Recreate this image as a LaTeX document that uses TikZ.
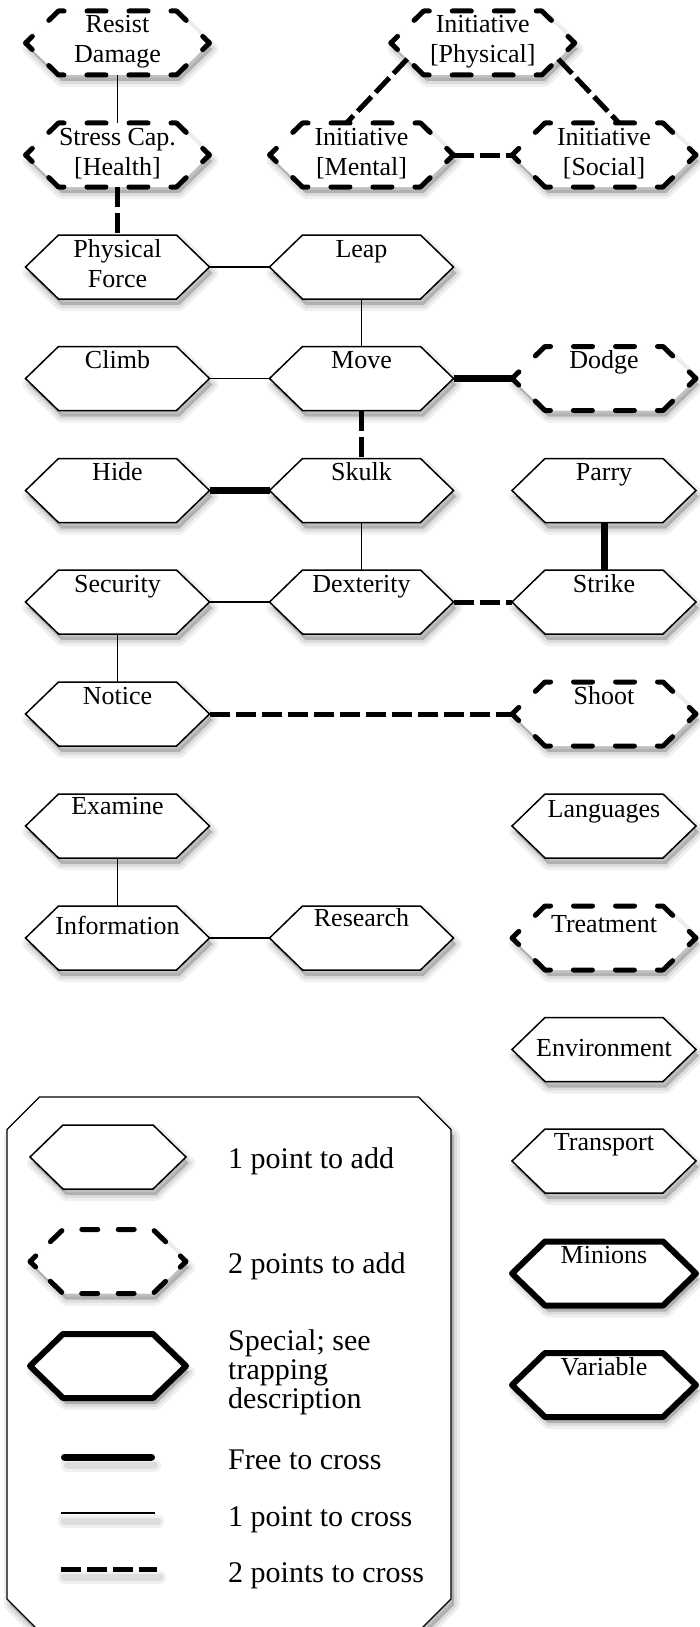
\documentclass[tikz,border=0pt]{standalone}
\usepackage{fontspec}
\setmainfont{Liberation Serif}

\tikzset{
  softshadow/.style={
    preaction={draw=black, draw opacity=0.06, line width=12pt, solid, line join=round,
      fill=black, fill opacity=0.07, transform canvas={shift={(3pt,-6pt)}}},
    preaction={draw=black, draw opacity=0.08, line width=6pt, solid, line join=round,
      transform canvas={shift={(3pt,-6pt)}}},
    preaction={fill=black, fill opacity=0.14, transform canvas={shift={(3pt,-6pt)}}}},
  lineshadow/.style={
    preaction={draw=black, draw opacity=0.06, line width=13pt, solid, line cap=round,
      transform canvas={shift={(3pt,-8pt)}}},
    preaction={draw=black, draw opacity=0.08, line width=7pt, solid, line cap=round,
      transform canvas={shift={(3pt,-8pt)}}}},
  hexbox/.style={inner sep=0pt, outer sep=0pt, minimum width=184pt, minimum height=64pt,
    font=\fontsize{26pt}{30pt}\selectfont},
  hexone/.style={softshadow, draw=black, fill=white, line width=1.5pt},
  hextwo/.style={softshadow, draw=black, fill=white, line width=5pt, line cap=round,
    line join=round, dash pattern=on 19pt off 23pt, dash phase=9.5pt},
  hexspecial/.style={softshadow, draw=black, fill=white, line width=6pt, line join=round},
  keydash/.style={dash pattern=on 16pt off 20.4pt, dash phase=8pt},
  freeline/.style={line width=7pt},
  oneline/.style={line width=1.5pt},
  twoline/.style={line width=5pt, dash pattern=on 20pt off 6pt},
  keybox/.style={softshadow, draw=black, fill=white, line width=1.3pt},
  keytext/.style={inner sep=0pt, font=\fontsize{30pt}{29pt}\selectfont, align=left}
}

% hexagon outline: style, x, y, half width
\newcommand{\hexagon}[4]{\draw[#1] (#2,#3) ++(-#4,0) -- ++(33,32) -- ++({2*#4-66},0)
  -- ++(33,-32) -- ++(-33,-32) -- ++({66-2*#4},0) -- cycle;}
% skill: [text drop], style, name, x, y, text
\newcommand{\skill}[6][22pt]{\hexagon{#2}{#4}{#5}{92}
  \node[hexbox] (#3) at (#4,#5) {\parbox[c][64pt][t]{184pt}{\centering\rule{0pt}{#1}#6}};}

\begin{document}
\begin{tikzpicture}[x=1pt, y=1pt]
\useasboundingbox (0,0) rectangle (699,-1627);

% skills
\skill{hextwo}{resist}{117.5}{-43}{Resist\\Damage}
\skill{hextwo}{iphys}{482.75}{-43}{Initiative\\{[Physical]}}
\skill{hextwo}{stress}{117.5}{-155}{Stress Cap.\\{[Health]}}
\skill{hextwo}{imental}{361.5}{-155}{Initiative\\{[Mental]}}
\skill{hextwo}{isocial}{604}{-155}{Initiative\\{[Social]}}
\skill{hexone}{pforce}{117.5}{-267}{Physical\\Force}
\skill{hexone}{leap}{361.5}{-267}{Leap}
\skill{hexone}{climb}{117.5}{-378.5}{Climb}
\skill{hexone}{move}{361.5}{-378.5}{Move}
\skill{hextwo}{dodge}{604}{-378.5}{Dodge}
\skill{hexone}{hide}{117.5}{-490.5}{Hide}
\skill{hexone}{skulk}{361.5}{-490.5}{Skulk}
\skill{hexone}{parry}{604}{-490.5}{Parry}
\skill{hexone}{security}{117.5}{-602}{Security}
\skill{hexone}{dexterity}{361.5}{-602}{Dexterity}
\skill{hexone}{strike}{604}{-602}{Strike}
\skill{hexone}{notice}{117.5}{-714}{Notice}
\skill{hextwo}{shoot}{604}{-714}{Shoot}
\skill[20pt]{hexone}{examine}{117.5}{-826}{Examine}
\skill[23pt]{hexone}{languages}{604}{-826}{Languages}
\skill[28pt]{hexone}{information}{117.5}{-938}{Information}
\skill[20pt]{hexone}{research}{361.5}{-938}{Research}
\skill[26pt]{hextwo}{treatment}{604}{-938}{Treatment}
\skill[39pt]{hexone}{environment}{604}{-1049.5}{Environment}
\skill[21pt]{hexone}{transport}{604}{-1161}{Transport}
\skill{hexspecial}{minions}{604}{-1273.5}{Minions}
\skill{hexspecial}{variable}{604}{-1385}{Variable}

% links
\draw[oneline] (resist.south) -- (stress.north);
\draw[twoline] (stress.south) -- (pforce.north);
\draw[twoline] ([xshift=16.5pt,yshift=16pt]iphys.south west) -- ([xshift=-15pt]imental.north);
\draw[twoline] ([xshift=-16.5pt,yshift=16pt]iphys.south east) -- ([xshift=15pt]isocial.north);
\draw[twoline] (imental.east) -- (isocial.west);
\draw[oneline] (pforce.east) -- (leap.west);
\draw[oneline] (leap.south) -- (move.north);
\draw[oneline] (climb.east) -- (move.west);
\draw[freeline] (move.east) -- (dodge.west);
\draw[twoline] (move.south) -- (skulk.north);
\draw[freeline] (hide.east) -- (skulk.west);
\draw[freeline] (parry.south) -- (strike.north);
\draw[oneline] (skulk.south) -- (dexterity.north);
\draw[oneline] (security.east) -- (dexterity.west);
\draw[twoline] (dexterity.east) -- (strike.west);
\draw[oneline] (security.south) -- (notice.north);
\draw[twoline] (notice.east) -- (shoot.west);
\draw[oneline] (examine.south) -- (information.north);
\draw[oneline] (information.east) -- (research.west);

% key
\draw[keybox] (39.5,-1097) -- (418.5,-1097) -- (451,-1129.5) -- (451,-1599) -- (418.5,-1631.5)
  -- (39.5,-1631.5) -- (7,-1599) -- (7,-1129.5) -- cycle;
\hexagon{hexone}{108}{-1157}{78}
\hexagon{hextwo, keydash}{108}{-1261.5}{78}
\hexagon{hexspecial}{108}{-1366}{78}
\node[keytext, anchor=base west] (addone) at (228,-1168) {1 point to add};
\node[keytext, anchor=base west] (addtwo) at (228,-1273) {2 points to add};
\node[keytext, anchor=north west] (special) at (228,-1329.5) {Special; see\\trapping\\description};
\draw[freeline, line cap=round, lineshadow] (64.5,-1457) -- (151.5,-1457);
\node[keytext, anchor=base west] (crossfree) at (228,-1469) {Free to cross};
\draw[oneline, lineshadow] (61,-1513) -- (155,-1513);
\node[keytext, anchor=base west] (crossone) at (228,-1526) {1 point to cross};
\draw[twoline, lineshadow] (61,-1569) -- (157,-1569);
\node[keytext, anchor=base west] (crosstwo) at (228,-1582) {2 points to cross};
\end{tikzpicture}
\end{document}
